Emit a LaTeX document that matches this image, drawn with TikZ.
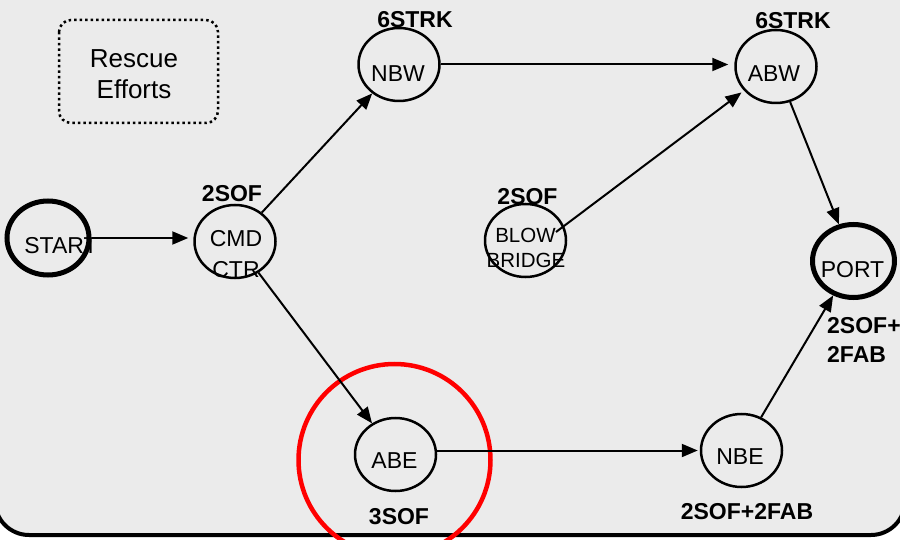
\documentclass[tikz,border=0pt]{standalone}
\usepackage{fontspec}
\setmainfont{Liberation Sans}
\usetikzlibrary{arrows.meta,shapes.geometric}
\definecolor{bg}{RGB}{235,235,235}
\definecolor{redring}{RGB}{255,0,0}
\begin{document}
\begin{tikzpicture}[x=1pt,y=-1pt,
  state/.style={ellipse,draw=black,line width=2.5pt,inner sep=0pt,minimum width=81pt,minimum height=73pt},
  thickstate/.style={ellipse,draw=black,line width=5pt,inner sep=0pt,minimum width=82pt,minimum height=74pt},
  txt/.style={anchor=base,inner sep=0pt,font=\fontsize{23}{27}\selectfont},
  smalltxt/.style={anchor=base,inner sep=0pt,font=\fontsize{20.5}{24}\selectfont},
  boldtxt/.style={anchor=base,inner sep=0pt,font=\fontsize{23}{27}\selectfont\bfseries},
  arr/.style={draw=black,line width=2pt,-{Triangle[length=16pt,width=13pt]}}]
\useasboundingbox (0,0) rectangle (900,540);
\fill[white] (0,0) rectangle (900,540);
% frame
\draw[fill=bg,line width=4pt,rounded corners=34pt] (-5,-80) rectangle (905,535);
% rescue box
\draw[line width=2.5pt,dash pattern=on 2.5pt off 3pt,rounded corners=12pt] (59,20) rectangle (218,123);
\node[anchor=base,inner sep=0pt,font=\fontsize{26}{30}\selectfont] (resc1) at (134,68) {Rescue};
\node[anchor=base,inner sep=0pt,font=\fontsize{26}{30}\selectfont] (resc2) at (134,99) {Efforts};
% red ring
\node[circle,draw=redring,line width=4.5pt,minimum size=192pt,inner sep=0pt] (ring) at (394.5,460) {};
% states
\node[thickstate] (start) at (48,238) {};
\node[state] (cmd) at (235,241.5) {};
\node[state] (nbw) at (399,64.5) {};
\node[state] (abw) at (776,66.5) {};
\node[state] (blow) at (525.5,240.5) {};
\node[thickstate,minimum width=82pt,minimum height=73pt] (port) at (853.5,261) {};
\node[state] (abe) at (395.5,454.5) {};
\node[state] (nbe) at (741.5,450.5) {};
\coordinate (bb) at (556,232);
% texts
\node[txt] (tstart) at (61,254) {START};
\node[txt] (tcmd1) at (236,247) {CMD};
\node[txt] (tcmd2) at (236,277) {CTR};
\node[txt] (tnbw) at (398,82) {NBW};
\node[txt] (tabw) at (774,82) {ABW};
\node[smalltxt] (tblow1) at (525.5,243) {BLOW};
\node[smalltxt] (tblow2) at (526,268) {BRIDGE};
\node[txt] (tport) at (852.5,278) {PORT};
\node[txt] (tabe) at (394.5,468) {ABE};
\node[txt] (tnbe) at (740,464) {NBE};
% bold labels
\node[boldtxt] (lcmd) at (232,202) {2SOF};
\node[boldtxt] (lnbw) at (415,28) {6STRK};
\node[boldtxt] (labw) at (793,29) {6STRK};
\node[boldtxt] (lblow) at (527.5,205) {2SOF};
\node[boldtxt,anchor=base west] (lport1) at (827,333) {2SOF+};
\node[boldtxt,anchor=base west] (lport2) at (827,362) {2FAB};
\node[boldtxt] (labe) at (399,524) {3SOF};
\node[boldtxt] (lnbe) at (747,519) {2SOF+2FAB};
% connectors
\draw[arr,shorten >=5pt] (start.east) -- (start.east -| cmd.west);
\draw[arr] (cmd) -- (nbw);
\draw[arr,shorten >=6pt] (nbw.east) -- (nbw.east -| abw.west);
\draw[arr,shorten >=3pt] (bb) -- (abw);
\draw[arr] (abw) -- (port);
\draw[arr] (nbe) -- (port);
\draw[arr,shorten >=2pt] (abe.east |- nbe.west) -- (nbe.west);
\draw[arr] (cmd) -- (abe);
\end{tikzpicture}
\end{document}
